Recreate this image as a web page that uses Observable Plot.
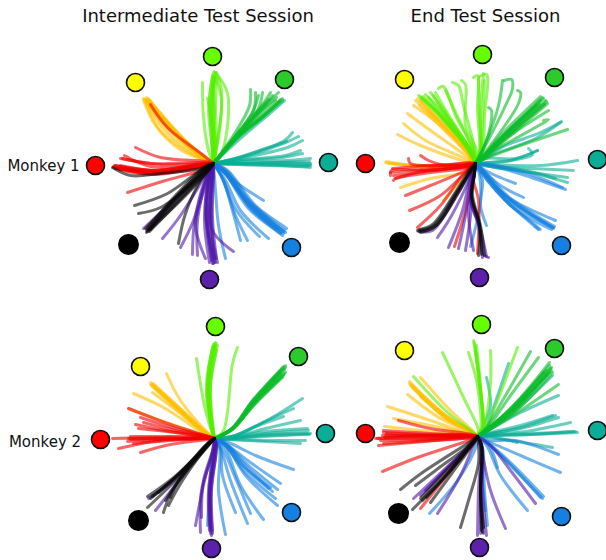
<!DOCTYPE html>
<html><head><meta charset="utf-8">
<script src="https://cdn.jsdelivr.net/npm/d3@7"></script>
<script src="https://cdn.jsdelivr.net/npm/@observablehq/plot@0.6"></script>
<style>html,body{margin:0;padding:0;background:#fff}svg{display:block}</style>
</head><body><div id="c"></div><script>
const titles = [["Intermediate Test Session",197.5,16],["End Test Session",485,16]];
const rowLabels = [["Monkey 1",43,166],["Monkey 2",44.5,442]];
const colors = {teal:"#0aad95",blue:"#1580e0",yellow:"#ffc000",lime:"#55ee00",green:"#0cbb2a",red:"#f00000",purple:"#4f18a8",black:"#0a0a0a"};
const markerFill = {yellow:"#ffff00",lime:"#66ff00",green:"#2bcb2b",teal:"#0aad95",blue:"#1580e0",purple:"#5b21ab",black:"#000000",red:"#ff0000"};

const targetsA = {yellow:[135,82],lime:[212,56],green:[284,79],teal:[328,162],blue:[291,247],purple:[209,279],black:[128,244],red:[95,165]};
const targetsB = {yellow:[404,79],lime:[482,54],green:[554,77],teal:[597,159],blue:[561,245],purple:[479,277],black:[399,242],red:[365,163]};
const targetsC = {yellow:[140,366],lime:[215,326],green:[298,356],teal:[325,433],blue:[291,512],purple:[211,548],black:[138,520],red:[100,439]};
const targetsD = {yellow:[404,350],lime:[481,324],green:[554,348],teal:[597,430],blue:[561,516],purple:[479,547],black:[398,513],red:[365,433]};
const centres = [[213,163],[475,163],[214,438],[477,436]];

// Panel A: monkey 1, intermediate session
const aTeal = [[292,132,284,140,245,155],[298,136,285,142,248,155],[302,140,287,147,240,158],[300,150,285,155,245,159],[310,158,285,160,240,161],[310,163,280,162,240,163],[310,167,280,165,240,164],[309,161,270,162,235,163],[310,165,275,164,235,163],[302,153,282,157,240,160],[284,100,268,114,240,138],[308,166,270,165,235,164],[310,164,272,163,235,163],[286,141,265,148,235,158]];
const aBlue = [[283,233,250,205,226,172],[281,232,250,208,228,175],[285,232,252,204,226,170],[280,233,248,208,226,175],[286,228,282,225,255,205,227,170],[263,200,240,185,222,170],[268,238,240,210,225,180],[259,236,236,210,222,178],[247,240,235,215,222,178],[240,240,232,210,222,178],[225,258,218,225,215,190],[283,231,247,200,224,170],[276,228,248,203,225,172],[282,235,248,205,224,172],[279,229,245,200,224,172],[284,230,246,198,223,170]];
const aYellow = [[143,98,165,125,190,148],[146,97,168,122,192,148],[148,98,170,125,193,148],[145,102,160,130,185,150],[143,100,155,125,178,148],[147,100,163,120,190,145],[144,99,166,127,192,150],[149,100,172,127,196,150],[146,101,162,127,188,150],[145,99,167,124,195,151],[147,99,168,125,194,150],[146,99,166,124,192,149]];
const aLime = [[202,82,203,117,208,150],[207,98,212,127,212,148],[212,75,208,110,211,140],[214,77,210,105,211,140],[216,72,221,90,219,130],[214,71,227,93,222,150],[215,77,221,100,217,140],[212,80,214,110,213,140],[213,72,209,100,212,140],[215,73,212,105,214,140],[214,74,211,115,215,140],[213,76,212,100,213,135],[216,78,215,110,216,140]];
const aGreen = [[250,89,249,105,236,130],[255,92,253,110,238,132],[262,92,258,108,240,132],[278,92,262,107,240,132],[282,98,265,113,241,133],[280,99,262,115,240,134],[275,100,260,113,238,135],[270,92,258,110,238,135],[272,95,258,113,237,135],[279,101,262,117,238,136],[282,100,264,115,239,136],[258,95,252,112,236,134],[276,97,256,114,235,136],[268,99,250,118,234,137]];
const aRed = [[113,166,150,172,195,166],[115,165,160,170,200,164],[117,168,155,173,195,167],[113,167,152,173,197,166],[116,167,158,171,198,165],[119,168,160,172,200,166],[122,158,150,163,200,162],[120,158,160,164,200,163],[135,147,160,157,205,161],[127,192,165,180,200,170],[124,155,150,166,200,165],[150,104,167,127,203,155],[114,165,150,170,195,165],[115,168,150,174,195,168],[120,165,155,170,195,164]];
const aPurple = [[212,263,207,220,211,170],[215,262,209,225,212,172],[217,262,210,225,212,170],[211,260,206,220,210,170],[213,263,206,215,210,172],[197,255,197,220,207,175],[205,258,195,225,207,180],[180,247,193,220,205,180],[192,254,194,222,205,178],[162,238,180,215,205,175],[143,228,177,196,207,168],[233,251,212,230,211,180],[214,258,205,215,209,175],[214,262,211,215,213,170],[209,262,204,220,209,172],[216,258,212,218,213,172]];
const aBlack = [[146,230,177,197,207,167],[148,229,178,197,208,167],[145,228,176,196,206,167],[147,231,179,198,208,168],[150,229,177,195,206,168],[134,205,167,193,197,172],[138,213,160,207,190,185],[178,243,185,213,200,180],[112,167,130,175,160,173,200,168],[147,228,175,195,206,165],[149,231,180,199,209,168],[146,232,180,200,209,169]];

// Panel B: monkey 1, end session
const bTeal = [[577,160,540,165,490,164],[573,170,530,168,490,166],[567,182,530,172,490,166],[567,177,530,172,495,167],[537,150,510,160,488,162],[560,122,535,138,490,155],[537,150,515,158,485,158],[555,178,525,170,492,165],[528,148,532,154,510,160,488,162],[561,121,540,132,505,145,488,155]];
const bBlue = [[565,189,525,175,490,165],[562,187,525,172,490,164],[555,220,505,195,482,170],[553,228,510,200,485,175],[551,229,510,205,485,175],[554,226,510,198,485,172],[552,227,508,200,484,173],[538,229,505,200,487,180],[535,226,540,229,505,200,487,180],[523,197,500,185,485,172],[515,183,495,175,485,170],[553,227,508,198,483,172],[470,246,480,200,478,170],[486,225,480,205,482,180]];
const bYellow = [[417,98,440,120,468,147,470,165],[413,105,440,125,465,150],[407,113,430,130,465,155],[403,123,425,140,465,158],[397,134,420,145,462,160],[420,100,442,124,468,150],[385,162,420,166,470,165],[388,163,425,165,470,164],[386,161,430,167,470,164],[400,187,430,178,470,170],[443,200,456,185,470,172],[415,100,432,115,462,145],[419,105,434,120,462,148],[427,110,440,122,465,150]];
const bLime = [[418,95,440,115,468,150],[425,94,445,115,468,150],[430,92,447,115,470,150],[438,88,443,86,455,115,472,148],[445,90,458,118,473,150],[452,82,458,85,463,105,474,148],[461,80,465,84,465,125,476,150],[423,96,442,118,470,152],[435,92,450,118,470,150],[473,77,477,75,477,110,479,150],[483,73,480,110,480,150],[479,76,486,74,484,115,482,150],[478,78,479,115,480,150],[428,97,450,125,471,152],[421,98,445,122,471,152],[420,96,446,120,469,150],[433,95,452,125,471,150],[484,80,482,120,480,150]];
const bGreen = [[542,97,505,133,481,157],[545,100,507,135,483,157],[547,103,510,135,483,158],[540,100,505,135,482,157],[544,104,505,137,482,158],[536,105,505,133,482,157],[504,80,511,79,512,88,505,105,485,145],[517,90,520,92,518,103,490,145],[488,107,491,110,490,125,482,150],[543,120,548,119,515,138,485,155],[567,129,520,145,485,158],[502,80,498,105,484,145],[548,110,508,136,482,157],[546,101,506,136,482,158],[543,98,504,134,481,158],[540,96,500,135,481,158],[539,104,500,138,482,158]];
const bRed = [[408,158,410,163,440,165,470,162],[420,155,428,160,445,165,470,164],[390,175,391,170,430,170,468,165],[393,180,395,178,430,172,468,167],[395,178,425,170,468,166],[405,195,430,185,465,170],[409,210,440,195,465,172],[417,227,440,205,462,175],[392,168,430,165,470,163],[454,246,465,210,472,178],[477,253,478,200,472,175],[390,172,430,168,470,164],[393,175,432,170,470,165]];
const bPurple = [[437,237,450,217,467,183],[448,247,462,210,469,180],[458,248,465,215,470,180],[465,250,470,215,472,180],[488,257,483,254,479,227,470,200,474,172],[486,256,479,225,470,198,474,172],[482,257,478,225,470,195,474,172],[473,250,468,210,474,175],[420,231,432,230,458,192,470,172]];
const bBlack = [[417,230,433,225,457,190,470,170],[418,231,434,226,458,192,470,170],[420,232,436,225,458,190,471,170],[419,229,432,224,456,190,470,168],[478,255,479,225,471,195,474,172],[484,255,480,225,472,195,474,172],[481,254,479,225,471,195,474,172]];

// Panel C: monkey 2, intermediate session
const cTeal = [[302,398,270,418,235,435],[293,408,262,422,235,435],[300,420,265,428,230,437],[307,428,265,431,230,437],[307,433,265,434,230,438],[310,433,265,436,230,438],[305,440,265,440,230,439],[300,443,265,441,230,439],[283,416,255,426,232,436],[308,430,265,433,230,438],[309,434,265,435,230,438]];
const cBlue = [[293,469,255,455,228,442],[280,483,250,462,226,444],[277,489,248,465,226,444],[272,491,245,465,226,444],[277,505,245,475,226,446],[263,519,240,485,224,446],[250,513,236,480,222,448],[247,523,230,480,220,448],[235,512,222,475,220,448],[225,534,218,490,219,448],[207,525,209,490,212,450],[268,488,245,468,226,444],[275,498,243,470,226,446],[270,487,242,465,225,445]];
const cYellow = [[150,382,183,413,205,432],[152,384,185,415,205,432],[154,386,185,413,205,432],[152,392,180,413,205,433],[166,373,180,400,207,432],[133,393,163,407,205,434],[128,408,160,420,205,435],[150,384,182,412,204,432],[153,383,184,412,206,432],[151,385,183,415,205,433]];
const cLime = [[215,342,208,377,211,430],[213,344,207,380,212,430],[216,343,209,380,212,430],[212,346,207,385,212,430],[217,345,210,385,213,430],[215,348,206,395,212,430],[237,347,232,363,223,430],[196,358,205,410,212,433],[214,343,206,382,212,430],[215,345,210,378,212,430],[213,350,208,390,212,430],[216,350,209,395,213,430]];
const cGreen = [[285,365,253,400,233,427],[283,366,252,400,232,428],[284,369,253,402,232,428],[285,372,254,402,232,428],[283,375,255,403,232,428],[280,374,252,404,231,429],[285,367,255,400,233,427],[282,368,252,401,232,428],[284,373,255,401,233,428],[280,371,251,402,231,428],[282,377,253,405,232,429]];
const cRed = [[140,417,175,428,208,436],[135,424,170,431,208,437],[138,428,175,432,208,437],[143,422,175,430,208,436],[112,438,160,437,208,437],[128,438,165,438,208,438],[133,443,170,440,208,438],[118,448,160,440,208,438],[140,452,170,444,208,439],[130,439,170,438,208,438],[128,408,170,424,208,436],[127,441,165,439,208,438],[130,436,170,436,208,437]];
const cPurple = [[210,533,209,490,215,445],[212,533,210,490,215,445],[209,530,208,490,214,445],[211,535,209,490,215,445],[195,525,204,480,213,447],[200,532,201,490,213,450],[201,517,203,480,213,447],[155,510,173,487,205,445],[148,498,173,480,206,445],[210,528,211,485,216,445],[212,530,211,490,216,445]];
const cBlack = [[147,496,172,478,210,442],[147,507,178,477,208,444],[163,512,172,490,208,445],[150,498,180,472,208,442],[170,497,180,477,209,443],[152,496,178,474,210,441],[158,492,180,472,210,441],[165,500,182,475,209,443],[168,505,182,480,209,443]];

// Panel D: monkey 2, end session
const dTeal = [[486,377,490,405,483,425],[508,363,493,407,485,428],[558,395,520,412,488,430],[552,415,520,425,490,432],[555,415,520,427,490,433],[558,417,520,428,490,433],[570,422,525,431,490,434],[577,432,530,434,490,435],[573,431,530,434,490,435],[552,447,510,440,488,437],[517,442,500,438,488,436],[552,375,515,410,488,430],[575,431,530,433,490,435]];
const dBlue = [[558,454,515,440,488,440],[560,472,520,455,490,442],[542,498,510,465,488,443],[540,497,508,462,487,443],[543,496,511,463,488,443],[527,510,500,475,486,445],[497,467,492,452,486,442],[429,513,457,480,476,445],[487,525,484,490,482,447],[485,510,482,480,482,447]];
const dYellow = [[409,381,445,415,470,430],[411,384,447,416,470,430],[412,387,447,418,470,431],[409,383,445,418,470,431],[420,377,450,410,472,430],[407,394,440,418,470,432],[387,406,430,420,470,434],[393,418,430,425,470,434],[384,426,430,431,470,435],[420,396,448,418,470,432],[410,385,446,418,470,431]];
const dLime = [[473,340,478,377,482,430],[474,342,479,380,482,430],[476,345,480,385,482,430],[442,352,463,397,478,430],[468,352,477,385,480,430],[490,350,490,383,483,427],[413,376,445,410,470,430],[517,347,495,405,485,428],[475,350,480,390,482,430]];
const dGreen = [[551,367,515,407,485,430],[549,362,513,405,485,430],[550,368,516,408,486,430],[552,372,516,410,486,430],[549,372,513,408,485,431],[546,375,512,410,485,431],[530,351,505,395,485,428],[538,357,510,395,485,430],[558,384,520,410,486,431],[551,370,514,407,485,430],[549,365,512,407,484,431],[546,370,510,408,484,431],[543,372,510,410,484,431]];
const dRed = [[375,438,420,435,470,435],[383,432,430,434,472,435],[382,435,430,436,472,436],[384,437,430,437,472,436],[377,438,430,438,472,436],[378,445,425,441,472,437],[382,471,417,457,468,440],[420,508,450,470,470,442],[383,430,430,433,472,435],[398,420,430,428,472,434],[386,433,430,435,472,435],[385,435,430,435,472,436],[380,440,430,439,472,436],[383,443,430,440,472,437]];
const dPurple = [[413,498,448,465,472,442],[437,513,460,475,473,445],[505,528,490,490,480,445],[477,535,478,490,480,445],[486,535,482,490,481,445],[535,503,510,470,490,445],[480,533,480,490,481,445],[483,533,481,490,481,445],[420,495,450,465,472,442],[425,490,452,462,473,443]];
const dBlack = [[400,489,422,472,470,441],[415,485,435,470,472,442],[412,509,445,475,472,443],[422,500,450,470,472,443],[430,502,452,472,473,443],[420,498,448,468,472,442],[460,527,468,500,478,463,478,445],[482,532,480,490,481,445],[483,527,480,490,481,445],[481,530,480,490,481,445],[426,497,452,468,472,443]];

const panelPaths = [
  {teal:aTeal,blue:aBlue,yellow:aYellow,lime:aLime,green:aGreen,red:aRed,purple:aPurple,black:aBlack},
  {teal:bTeal,blue:bBlue,yellow:bYellow,lime:bLime,green:bGreen,red:bRed,purple:bPurple,black:bBlack},
  {teal:cTeal,blue:cBlue,yellow:cYellow,lime:cLime,green:cGreen,red:cRed,purple:cPurple,black:cBlack},
  {teal:dTeal,blue:dBlue,yellow:dYellow,lime:dLime,green:dGreen,red:dRed,purple:dPurple,black:dBlack}
];
const markerSets = [targetsA,targetsB,targetsC,targetsD];

const traces = [];
panelPaths.forEach((set, p) => {
  for (const [name, paths] of Object.entries(set)) {
    paths.forEach((flat, i) => {
      const id = `${p}-${name}-${i}`;
      for (let k = 0; k < flat.length; k += 2) traces.push({id, color: colors[name], x: flat[k], y: flat[k+1]});
      traces.push({id, color: colors[name], x: centres[p][0], y: centres[p][1]});
    });
  }
});
const markers = markerSets.flatMap(t => Object.entries(t).map(([name,[x,y]]) => ({name,x,y,fill:markerFill[name],r:name==="black"?10.5:9})));

const chart = Plot.plot({
  width:606, height:560, margin:0,
  x:{domain:[0,606],range:[0,606],axis:null},
  y:{domain:[0,560],range:[0,560],axis:null},
  marks:[
    Plot.line(traces,{x:"x",y:"y",z:"id",stroke:"color",strokeWidth:3,strokeOpacity:0.6,curve:"catmull-rom"}),
    Plot.dot(markers,{x:"x",y:"y",r:"r",fill:"fill",stroke:d=>d.name==="black"?"none":"#111",strokeWidth:1.6}),
    Plot.text(titles,{x:d=>d[1],y:d=>d[2],text:d=>d[0],fontSize:18,fill:"#111",fontFamily:"DejaVu Sans"}),
    Plot.text(rowLabels,{x:d=>d[1],y:d=>d[2],text:d=>d[0],fontSize:15,fill:"#111",fontFamily:"DejaVu Sans"})
  ],
  r:{type:"identity"}
});
document.getElementById("c").append(chart);
</script></body></html>
